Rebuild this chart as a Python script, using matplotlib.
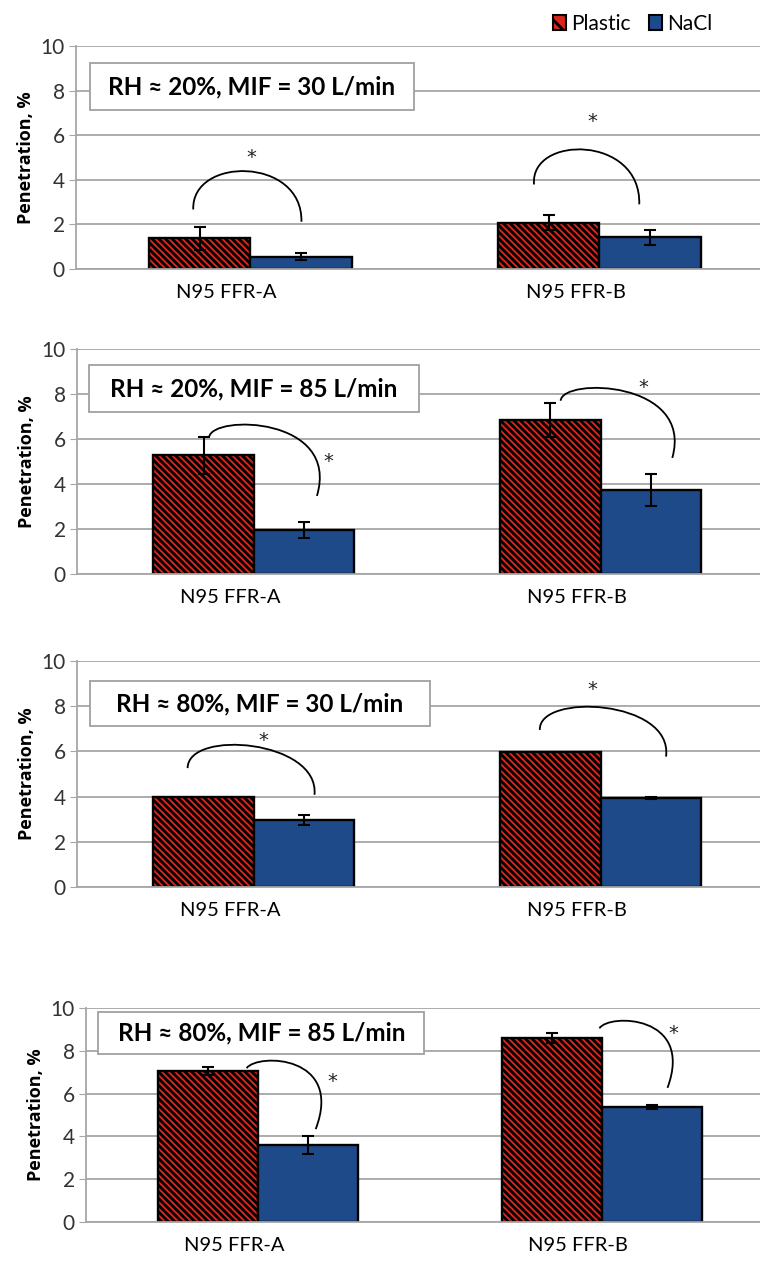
import matplotlib
matplotlib.use('Agg')
import matplotlib.pyplot as plt
import matplotlib.transforms as mtransforms
from matplotlib.path import Path
from matplotlib.patches import PathPatch, Rectangle, Patch
import numpy as np

plt.rcParams['font.family'] = ['Lato', 'DejaVu Sans']
plt.rcParams['hatch.linewidth'] = 2.0
plt.rcParams['hatch.color'] = 'black'

categories = ['N95 FFR-A', 'N95 FFR-B']
conditions = ['RH \u2248 20%, MIF = 30 L/min', 'RH \u2248 20%, MIF = 85 L/min',
              'RH \u2248 80%, MIF = 30 L/min', 'RH \u2248 80%, MIF = 85 L/min']

# mean penetration (%) per panel: [FFR-A, FFR-B]
plastic = [[1.37, 2.07], [5.28, 6.84], [3.98, 5.96], [7.05, 8.61]]
plastic_err = [[0.5, 0.33], [0.82, 0.74], [0.0, 0.0], [0.2, 0.24]]
nacl = [[0.56, 1.42], [1.97, 3.73], [2.97, 3.95], [3.6, 5.37]]
nacl_err = [[0.15, 0.35], [0.35, 0.7], [0.21, 0.05], [0.4, 0.08]]

# significance arcs: start, ctrl1, ctrl2, end (data coords) and star position
arcs = [
    [[(-0.164, 2.67), (-0.17, 5.05), (0.15, 5.05), (0.146, 2.12)],
     [(0.8125, 3.79), (0.80, 6.02), (1.12, 6.02), (1.114, 2.9)]],
    [[(-0.129, 6.08), (-0.12, 7.1), (0.25, 7.0), (0.182, 3.47)],
     [(0.885, 7.70), (0.89, 8.75), (1.27, 8.6), (1.207, 5.16)]],
    [[(-0.191, 5.26), (-0.19, 7.0), (0.19, 6.5), (0.175, 4.08)],
     [(0.825, 6.95), (0.82, 8.6), (1.21, 8.3), (1.189, 5.77)]],
    [[(-0.033, 7.19), (0.0, 7.9), (0.25, 7.8), (0.168, 4.34)],
     [(0.993, 9.05), (1.02, 9.75), (1.27, 9.7), (1.191, 6.27)]],
]
stars = [[(0.003, 5.0), (0.979, 6.6)],
         [(0.214, 5.0), (1.123, 8.3)],
         [(0.028, 6.5), (0.976, 8.75)],
         [(0.215, 6.55), (1.209, 8.8)]]
# condition box: x0, x1, y0, y1
boxes = [(-0.461, 0.469, 7.11, 9.26), (-0.475, 0.476, 7.18, 9.29),
         (-0.473, 0.507, 7.12, 9.12), (-0.464, 0.484, 7.83, 9.83)]

# axes placement in figure pixels: left, top(10), bottom(0), xlim
W, H = 760, 1263
panels = [(76, 46, 269, (-0.5, 1.46)), (77, 349, 574, (-0.51, 1.46)),
          (77, 661, 887, (-0.51, 1.46)), (86, 1008, 1222, (-0.50, 1.46))]

red = '#D9261C'
blue = '#1F4A8A'
grid_c = '#A6A6A6'
w = 0.29

fig = plt.figure(figsize=(W / 100, H / 100), dpi=100)
x = np.arange(len(categories))

for i in range(4):
    left, top, bot, xl = panels[i]
    ax = fig.add_axes([left / W, 1 - bot / H, (W - left) / W, (bot - top) / H])
    ax.set_xlim(*xl)
    ax.set_ylim(0, 10)
    ax.set_yticks(range(0, 11, 2))
    ax.yaxis.grid(True, color=grid_c, lw=1.3)
    ax.set_axisbelow(True)
    for s in ['top', 'right']:
        ax.spines[s].set_visible(False)
    ax.spines['left'].set_color(grid_c)
    ax.spines['bottom'].set_color(grid_c)
    ax.spines['left'].set_linewidth(1.3)
    ax.spines['bottom'].set_linewidth(1.3)
    ax.tick_params(axis='y', length=5, color=grid_c, labelsize=15, pad=3,
                   labelcolor='#333333')
    ax.tick_params(axis='x', length=0, labelsize=14.5, pad=11)

    ax.bar(x - w / 2, plastic[i], w, color=red, edgecolor='black', lw=1.7,
           hatch='\\' * 5, zorder=2)
    ax.bar(x + w / 2, nacl[i], w, color=blue, edgecolor='black', lw=1.7, zorder=2)
    pe = np.array(plastic_err[i])
    mask = pe > 0
    ax.errorbar((x - w / 2)[mask], np.array(plastic[i])[mask], yerr=pe[mask],
                fmt='none', ecolor='black', elinewidth=1.5, capsize=4, capthick=1.5, zorder=3)
    ax.errorbar(x + w / 2, nacl[i], yerr=nacl_err[i], fmt='none', ecolor='black',
                elinewidth=1.5, capsize=4, capthick=1.5, zorder=3)

    ax.set_xticks(x)
    ax.set_xticklabels(categories)
    off = mtransforms.ScaledTranslation(-0.24, 0, fig.dpi_scale_trans)
    for lab in ax.get_xticklabels():
        lab.set_transform(lab.get_transform() + off)

    for pts in arcs[i]:
        path = Path(pts, [Path.MOVETO, Path.CURVE4, Path.CURVE4, Path.CURVE4])
        ax.add_patch(PathPatch(path, fc='none', ec='black', lw=1.3, zorder=4))
    for sx, sy in stars[i]:
        ax.text(sx, sy, '*', ha='center', va='center', fontsize=14, color='#222222',
                family=['DejaVu Sans'], zorder=4)

    x0, x1, y0, y1 = boxes[i]
    ax.add_patch(Rectangle((x0, y0), x1 - x0, y1 - y0, fc='white', ec='#A0A0A0',
                           lw=1.3, zorder=5))
    ax.text((x0 + x1) / 2, (y0 + y1) / 2, conditions[i], ha='center', va='center',
            fontsize=17.5, fontweight='bold', zorder=6)

    ax.set_ylabel('Penetration, %', fontsize=13, fontweight='bold',
                  family=['Open Sans', 'DejaVu Sans'], labelpad=4)

handles = [Patch(facecolor=red, edgecolor='black', hatch='\\\\', lw=1.5),
           Patch(facecolor=blue, edgecolor='black', lw=1.5)]
fig.legend(handles, ['Plastic', 'NaCl'], loc='upper right', bbox_to_anchor=(0.962, 1.004),
           ncol=2, frameon=False, fontsize=15, handlelength=0.6, handleheight=0.75,
           handletextpad=0.25, columnspacing=0.9)

fig.savefig('out.png', dpi=100)
